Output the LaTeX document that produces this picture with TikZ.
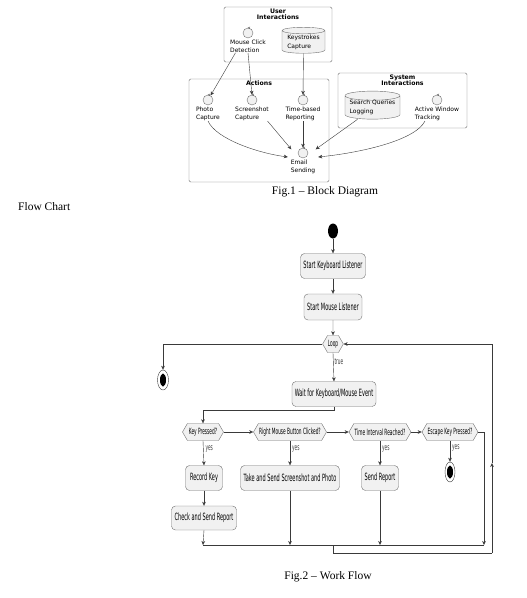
\documentclass[tikz,border=0pt]{standalone}
\usepackage{fontspec}
\setmainfont{Liberation Serif}
\newfontfamily\diagfont{DejaVu Sans}
\newfontfamily\flowfont[FakeStretch=0.5]{DejaVu Sans}
\usetikzlibrary{arrows.meta,positioning,shapes.geometric,shapes.symbols,calc}
\definecolor{boxfill}{HTML}{F1F1F1}
\definecolor{boxline}{HTML}{707070}
\definecolor{wire}{HTML}{3A3A3A}

\begin{document}
\begin{tikzpicture}[x=1pt,y=-1pt,
  grp/.style={draw=boxline,rounded corners=1.5pt,inner sep=0pt},
  grptitle/.style={font=\diagfont\fontsize{6.2}{6.8}\selectfont\bfseries,align=center,inner sep=0pt,anchor=north},
  ctrl/.style={circle,draw=boxline,fill=boxfill,minimum size=10pt,inner sep=0pt},
  ctrltext/.style={font=\diagfont\fontsize{6}{7.6}\selectfont,align=left,inner sep=0.5pt},
  store/.style={cylinder,shape border rotate=90,draw=boxline,fill=boxfill,aspect=0.2,inner sep=0pt,
    font=\diagfont\fontsize{6}{7.6}\selectfont},
  arr/.style={wire,-{Stealth[length=4pt,width=3.6pt,inset=1.2pt]}},
  act/.style={draw=boxline,fill=boxfill,rounded corners=4pt,font=\flowfont\fontsize{10}{11}\selectfont,
    minimum height=25pt,inner sep=1pt},
  cond/.style={signal,signal to=east and west,signal pointer angle=120,draw=boxline,fill=boxfill,
    font=\flowfont\fontsize{8.6}{9}\selectfont,minimum height=17pt,inner sep=0.3pt},
  guard/.style={font=\flowfont\fontsize{8.5}{9}\selectfont,inner sep=0pt,anchor=west},
  caption/.style={font=\fontsize{11.5}{13}\selectfont,inner sep=0pt},
]
\useasboundingbox (0,0) rectangle (527,598);

% ---- Fig.1: block diagram ----
\node[grp,minimum width=108pt,minimum height=55pt] (ui) at (278,34.5) {};
\node[grptitle] at ([yshift=-1.5pt]ui.north) {User\\Interactions};
\node[grp,minimum width=140pt,minimum height=103pt] (act) at (259,130.5) {};
\node[grptitle] at ([yshift=-1.5pt]act.north) {Actions};
\node[grp,minimum width=129pt,minimum height=55pt] (sys) at (402.5,100.5) {};
\node[grptitle] at ([yshift=-1.5pt]sys.north) {System\\Interactions};

\node[ctrl] (msc) at (248,33) {};
\node[ctrltext,below=1pt of msc] (msct) {Mouse Click\\Detection};
\node[store,minimum width=43pt,minimum height=26pt] (ksc) at (303.5,42)
  {\raisebox{-3.5pt}{\shortstack[l]{Keystrokes\\Capture}}};

\node[ctrl] (pho) at (208,100) {};
\node[ctrltext,below=1pt of pho] (phot) {Photo\\Capture};
\node[ctrl] (scr) at (252,100) {};
\node[ctrltext,below=1pt of scr] (scrt) {Screenshot\\Capture};
\node[ctrl] (tim) at (303,100) {};
\node[ctrltext,below=1pt of tim] (timt) {Time-based\\Reporting};
\node[ctrl] (eml) at (303,153) {};
\node[ctrltext,below=1pt of eml] (emlt) {Email\\Sending};

\node[store,minimum width=55pt,minimum height=25pt] (sql) at (372.5,107.5)
  {\raisebox{-3pt}{\shortstack[l]{Search Queries\\Logging}}};
\node[ctrl] (awt) at (437,100) {};
\node[ctrltext,below=1pt of awt] (awtt) {Active Window\\Tracking};

% little arrow on top of each control
\foreach \n in {msc,pho,scr,tim,eml,awt}
  \draw[boxline,-{Stealth[length=2.4pt,width=2.4pt]}] ([xshift=1.8pt]\n.north) -- ([xshift=-0.3pt]\n.north);

\draw[arr] ([xshift=6pt]msct.south west) -- (pho.60);
\draw[arr] (msct.south) -- (scr.north);
\draw[arr] (ksc.south) -- (tim.north);
\draw[arr] (phot.south) .. controls +(8,18) and +(-30,-4) .. ([xshift=-10pt,yshift=-4pt]eml.west);
\draw[arr] ([xshift=-2pt]scrt.south east) -- ([xshift=-8pt]eml.north west);
\draw[arr] (timt.south) -- (eml.north);
\draw[arr] ([xshift=-15pt]sql.south) -- ([xshift=9pt]eml.north east);
\draw[arr] ([xshift=-12pt]awtt.south) .. controls +(-10,20) and +(40,-4) .. ([xshift=10pt,yshift=-4pt]eml.east);

\node[caption] (fig1) at (325,192) {Fig.1 -- Block Diagram};
\node[caption,anchor=west] (fchart) at (18,207) {Flow Chart};

% ---- Fig.2: work flow ----
\node[ellipse,fill=black,minimum width=10pt,minimum height=15pt,inner sep=0pt] (start) at (333,231) {};
\node[act,minimum width=65pt] (skl) at (333,266) {Start Keyboard Listener};
\node[act,minimum width=58pt,minimum height=26pt] (sml) at (333,307) {Start Mouse Listener};
\node[cond,minimum width=20pt] (loop) at (333,344) {Loop};
\node[ellipse,draw=wire,minimum width=11pt,minimum height=20pt,inner sep=0pt,
  path picture={\fill[black] (path picture bounding box.center) ellipse (3pt and 6.5pt);}] (stop) at (163,380) {};
\node[act,minimum width=84pt] (wait) at (334,394) {Wait for Keyboard/Mouse Event};

\node[cond,minimum width=41pt] (kp) at (203,432) {Key Pressed?};
\node[cond,minimum width=73pt] (rmb) at (290,432) {Right Mouse Button Clicked?};
\node[cond,minimum width=62pt] (tir) at (380,432) {Time Interval Reached?};
\node[cond,minimum width=56pt] (esc) at (450,432) {Escape Key Pressed?};

\node[act,minimum width=37pt] (rk) at (204,478) {Record Key};
\node[act,minimum width=99pt] (tss) at (290,478) {Take and Send Screenshot and Photo};
\node[act,minimum width=37pt] (sr) at (380,478) {Send Report};
\node[ellipse,draw=wire,minimum width=10pt,minimum height=20pt,inner sep=0pt,
  path picture={\fill[black] (path picture bounding box.center) ellipse (3pt and 6.5pt);}] (escend) at (450,472) {};
\node[act,minimum width=65pt,minimum height=24pt] (csr) at (204,518) {Check and Send Report};

\coordinate (mkp) at (203,545);
\coordinate (mrm) at (290,545);
\coordinate (mti) at (380,545);
\coordinate (mes) at (484,545);
\coordinate (back) at (333,545);
\coordinate (rb) at (492,553);
\coordinate (ru) at (492,463);
\coordinate (rt) at (492,344);

\draw[arr] (start) -- (skl);
\draw[arr] (skl) -- (sml);
\draw[arr] (sml) -- (loop);
\draw[arr] (loop.west) -| (stop.north);
\draw[arr] (loop.south) -- (wait.north) node[guard,pos=0.3,xshift=1pt] (tru) {true};
\draw[arr] (wait.south) -- ++(0,3) -| (kp.north);

\draw[arr] (kp.east) -- (rmb.west);
\draw[arr] (rmb.east) -- (tir.west);
\draw[arr] (tir.east) -- (esc.west);
\draw[arr] (esc.east) -| (mes);

\draw[arr] (kp.south) -- (rk.north) node[guard,pos=0.35,xshift=2pt] (y1) {yes};
\draw[arr] (rk) -- (csr);
\draw[arr] (csr.south) -- (mkp);
\draw[arr] (rmb.south) -- (tss.north) node[guard,pos=0.35,xshift=2pt] (y2) {yes};
\draw[arr] (tss.south) -- (mrm);
\draw[arr] (tir.south) -- (sr.north) node[guard,pos=0.35,xshift=2pt] (y3) {yes};
\draw[arr] (sr.south) -- (mti);
\draw[arr] (esc.south) -- (escend.north) node[guard,pos=0.35,xshift=2pt] (y4) {yes};

\draw[wire] (mkp) -- (mes);
\draw[wire] (back) |- (rb);
\draw[arr] (rb) -- (ru);
\draw[arr] (ru) -- (rt) -- (loop.east);

\node[caption] (fig2) at (328,577) {Fig.2 -- Work Flow};
\end{tikzpicture}
\end{document}
